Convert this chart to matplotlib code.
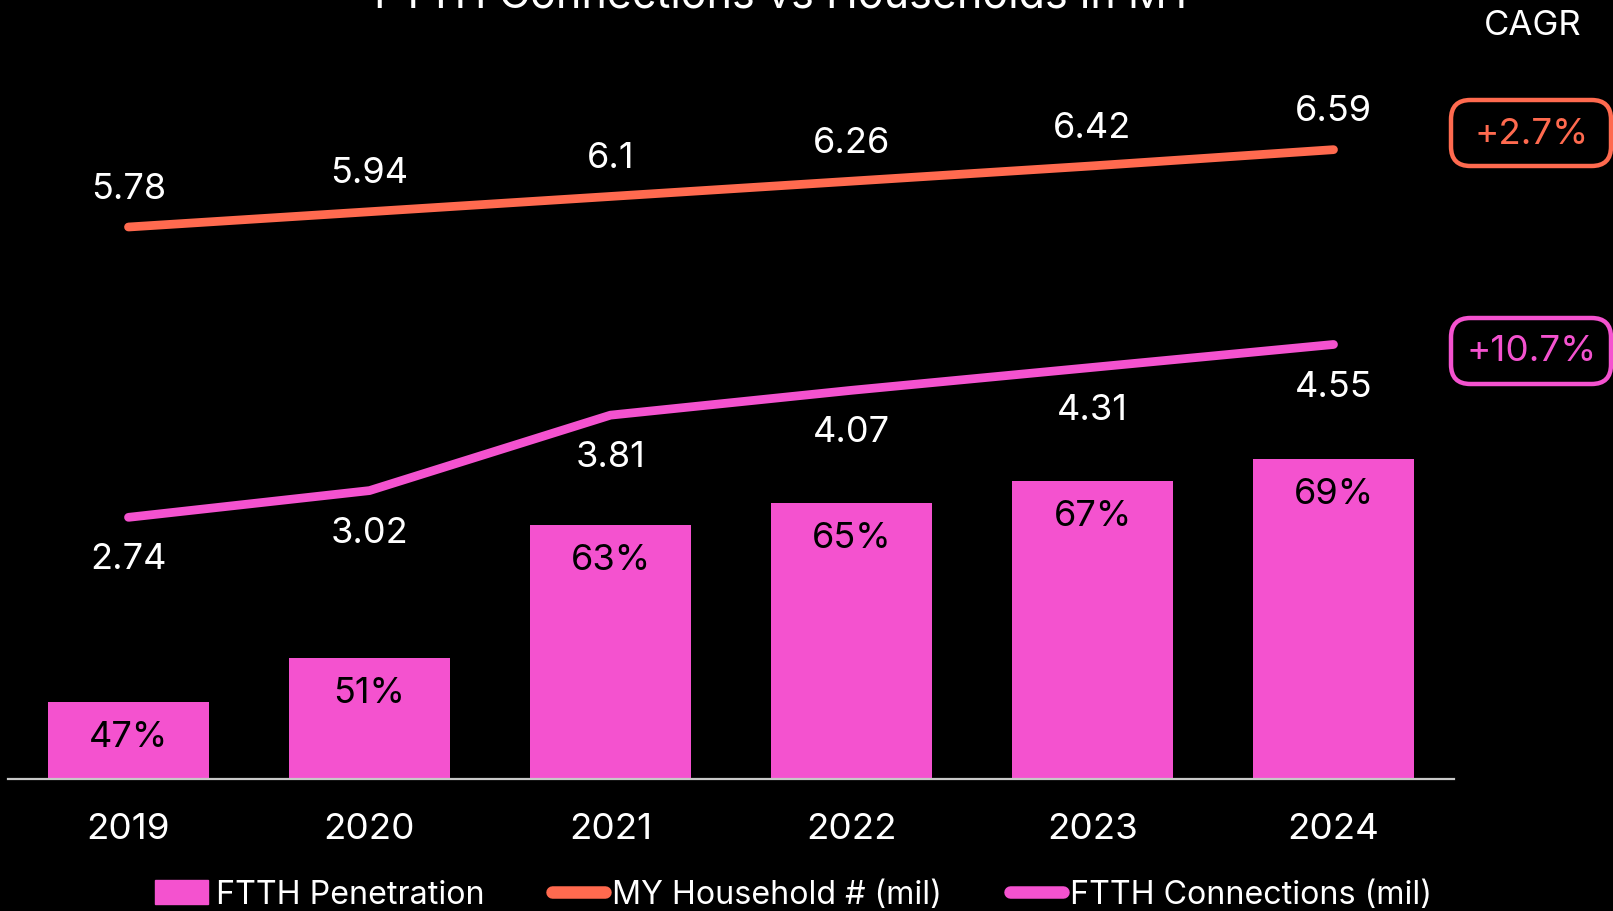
import matplotlib.pyplot as plt
from matplotlib.patches import FancyBboxPatch, Patch
from matplotlib.lines import Line2D

plt.rcParams['font.family'] = ['Inter', 'DejaVu Sans']

# data
years = ['2019', '2020', '2021', '2022', '2023', '2024']
penetration = [47, 51, 63, 65, 67, 69]            # FTTH penetration, %
households = [5.78, 5.94, 6.1, 6.26, 6.42, 6.59]  # MY households, mil
connections = [2.74, 3.02, 3.81, 4.07, 4.31, 4.55]  # FTTH connections, mil
cagr_households = '+2.7%'
cagr_connections = '+10.7%'

BG = 'black'
PINK = '#f452cf'
ORANGE = '#ff6a4f'
W, H = 1613, 912

fig = plt.figure(figsize=(W / 100, H / 100), dpi=100, facecolor=BG)
# axes box in pixels: x 8..1454, y (from top) 40..780
ax = fig.add_axes([8 / W, (H - 780) / H, 1446 / W, 740 / H])
ax.set_facecolor(BG)
x = list(range(len(years)))

# bars on their own scale
ax.bar(x, penetration, width=0.665, color=PINK, zorder=2)
ax.set_ylim(40.0, 107.0)
ax.set_xlim(-0.5, 5.5)
for xi, v in zip(x, penetration):
    ax.annotate(f'{v}%', (xi, v), xytext=(0, -25), textcoords='offset points',
                ha='center', va='center', fontsize=26, color='black')

for s in ['top', 'left', 'right']:
    ax.spines[s].set_visible(False)
ax.spines['bottom'].set_color('#c8c8c8')
ax.spines['bottom'].set_linewidth(1.6)
ax.set_yticks([])
ax.set_xticks(x)
ax.set_xticklabels(years)
ax.tick_params(axis='x', length=0, pad=24, labelsize=26.5, labelcolor='white')

# lines share one scale starting at zero
ax2 = ax.twinx()
ax2.set_ylim(0, 740 / 95.5)
ax2.set_yticks([])
for s in ax2.spines.values():
    s.set_visible(False)
ax2.plot(x, households, color=ORANGE, lw=6.3, solid_capstyle='round', zorder=3)
ax2.plot(x, connections, color=PINK, lw=6.3, solid_capstyle='round', zorder=3)
for xi, v in zip(x, households):
    ax2.annotate(f'{v:g}', (xi, v), xytext=(0, 28), textcoords='offset points',
                 ha='center', va='center', fontsize=26, color='white')
for xi, v in zip(x, connections):
    ax2.annotate(f'{v:g}', (xi, v), xytext=(0, -30), textcoords='offset points',
                 ha='center', va='center', fontsize=26, color='white')

# title (runs off the top edge)
fig.text(785 / W, 1 - 7 / H, 'FTTH Connections vs Households in MY',
         ha='center', va='baseline', fontsize=31, color='white')

# CAGR boxes
fig.text(1533 / W, 1 - 26 / H, 'CAGR', ha='center', va='center',
         fontsize=25, color='white')
for label, col, ytop in [(cagr_households, ORANGE, 101), (cagr_connections, PINK, 319)]:
    box = FancyBboxPatch((1451 / W, 1 - (ytop + 66) / H), 160 / W, 66 / H,
                         boxstyle='round,pad=0,rounding_size=0.012',
                         transform=fig.transFigure, fc='none', ec=col, lw=3.2,
                         mutation_aspect=W / H)
    fig.patches.append(box)
    fig.text(1532 / W, 1 - (ytop + 33) / H, label, ha='center', va='center',
             fontsize=26.5, color=col)

handles = [Patch(color=PINK),
           Line2D([], [], color=ORANGE, lw=9, solid_capstyle='round'),
           Line2D([], [], color=PINK, lw=9, solid_capstyle='round')]
labels = ['FTTH Penetration', 'MY Household # (mil)', 'FTTH Connections (mil)']
leg = fig.legend(handles, labels, loc='center', bbox_to_anchor=(0.492, 1 - 896 / H),
                 ncol=3, frameon=False, fontsize=23.2, handlelength=1.65,
                 handleheight=0.75, handletextpad=0.22, columnspacing=2.1)
for t in leg.get_texts():
    t.set_color('white')

fig.savefig('out.png', dpi=100, facecolor=BG)
